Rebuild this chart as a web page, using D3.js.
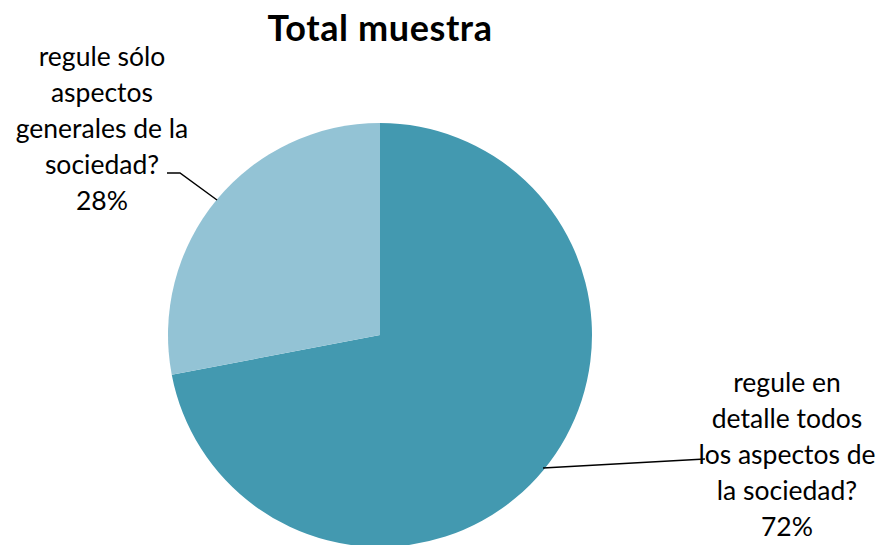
<!DOCTYPE html>
<html><head><meta charset="utf-8">
<script src="https://cdn.jsdelivr.net/npm/d3@7"></script>
<style>html,body{margin:0;padding:0;background:#fff;overflow:hidden}</style>
</head><body>
<svg id="c" width="882" height="545"></svg>
<script>
const title = "Total muestra";
const categories = ["regule en detalle todos los aspectos de la sociedad?", "regule sólo aspectos generales de la sociedad?"];
const values = [72, 28];
const labelLines = [
  ["regule en", "detalle todos", "los aspectos de", "la sociedad?", "72%"],
  ["regule sólo", "aspectos", "generales de la", "sociedad?", "28%"]
];
const colors = ["#4399B0", "#93C3D5"];

const svg = d3.select("#c");
const font = "Lato, 'Open Sans', sans-serif";
const cx = 380, cy = 335, r = 212;

svg.append("text").attr("x", 380).attr("y", 41).attr("text-anchor", "middle")
  .attr("font-family", font).attr("font-weight", "bold").attr("font-size", 36)
  .attr("letter-spacing", 0.6)
  .attr("fill", "#000").text(title);

const pie = d3.pie().sort(null).value(d => d);
const arcs = pie(values);
const arc = d3.arc().innerRadius(0).outerRadius(r);
const g = svg.append("g").attr("transform", `translate(${cx},${cy})`);
g.selectAll("path").data(arcs).join("path").attr("d", arc).attr("fill", (d, i) => colors[i]);

const lines = [
  [[543, 468], [705, 459]],
  [[217, 200], [180, 173], [167, 173]]
];
svg.selectAll("path.lead").data(lines).join("path").attr("class", "lead")
  .attr("d", d => d3.line()(d)).attr("fill", "none").attr("stroke", "#000").attr("stroke-width", 1.5);

const labelPos = [[787, 392], [102, 66]];
const fontSize = 26.5, lh = 36;
labelLines.forEach((ls, i) => {
  const t = svg.append("text").attr("text-anchor", "middle").attr("font-family", font)
    .attr("font-size", fontSize).attr("fill", "#000");
  ls.forEach((l, j) => t.append("tspan").attr("x", labelPos[i][0]).attr("y", labelPos[i][1] + j * lh).text(l));
});
</script>
</body></html>
